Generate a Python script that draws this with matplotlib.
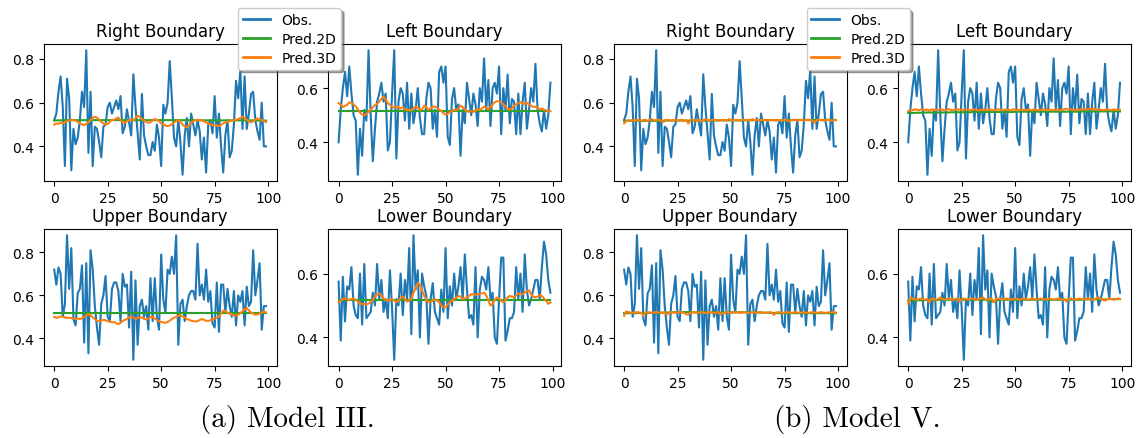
import matplotlib
matplotlib.use("Agg")
import matplotlib.pyplot as plt

x = list(range(100))

obs_right = [0.52,0.55,0.65,0.72,0.58,0.31,0.71,0.62,0.29,0.48,
             0.41,0.44,0.52,0.65,0.58,0.84,0.37,0.65,0.31,0.49,
             0.48,0.42,0.35,0.49,0.50,0.58,0.60,0.55,0.58,0.61,
             0.57,0.63,0.46,0.49,0.57,0.51,0.45,0.73,0.58,0.46,
             0.34,0.64,0.45,0.40,0.36,0.36,0.42,0.38,0.50,0.44,
             0.31,0.59,0.55,0.60,0.79,0.62,0.44,0.40,0.52,0.42,
             0.27,0.45,0.53,0.40,0.55,0.50,0.45,0.52,0.47,0.34,
             0.44,0.28,0.50,0.52,0.46,0.63,0.44,0.55,0.40,0.28,
             0.45,0.52,0.35,0.38,0.50,0.70,0.62,0.75,0.48,0.72,
             0.48,0.55,0.64,0.65,0.52,0.47,0.43,0.60,0.40,0.40]

obs_left = [0.40,0.52,0.60,0.66,0.57,0.68,0.58,0.50,0.48,0.28,
            0.45,0.35,0.52,0.48,0.74,0.50,0.33,0.45,0.55,0.58,
            0.62,0.55,0.58,0.37,0.40,0.58,0.74,0.34,0.55,0.60,
            0.58,0.48,0.62,0.45,0.58,0.47,0.52,0.60,0.49,0.43,
            0.43,0.56,0.62,0.60,0.45,0.52,0.42,0.66,0.68,0.62,
            0.68,0.42,0.39,0.56,0.60,0.52,0.54,0.35,0.52,0.47,
            0.62,0.56,0.50,0.58,0.54,0.46,0.60,0.55,0.71,0.52,
            0.63,0.46,0.60,0.62,0.58,0.68,0.43,0.60,0.52,0.65,
            0.47,0.56,0.55,0.43,0.58,0.43,0.55,0.62,0.45,0.52,
            0.60,0.55,0.69,0.52,0.47,0.44,0.52,0.45,0.50,0.62]

obs_upper = [0.72,0.65,0.73,0.70,0.50,0.56,0.88,0.63,0.82,0.49,
             0.46,0.61,0.63,0.74,0.38,0.75,0.33,0.81,0.72,0.55,
             0.45,0.37,0.56,0.60,0.69,0.50,0.48,0.63,0.66,0.66,
             0.62,0.48,0.70,0.64,0.65,0.45,0.71,0.30,0.67,0.37,
             0.55,0.58,0.50,0.55,0.44,0.68,0.48,0.68,0.50,0.44,
             0.79,0.58,0.52,0.72,0.70,0.78,0.70,0.88,0.37,0.56,
             0.58,0.48,0.55,0.60,0.62,0.62,0.58,0.84,0.60,0.65,
             0.58,0.72,0.57,0.62,0.47,0.45,0.66,0.43,0.65,0.65,
             0.52,0.63,0.55,0.50,0.62,0.46,0.60,0.57,0.62,0.46,
             0.64,0.55,0.57,0.81,0.60,0.67,0.75,0.44,0.55,0.55]

obs_lower = [0.575,0.39,0.59,0.45,0.56,0.55,0.62,0.50,0.47,0.46,
             0.60,0.44,0.63,0.46,0.47,0.48,0.54,0.50,0.63,0.52,
             0.58,0.48,0.52,0.46,0.61,0.49,0.33,0.52,0.50,0.60,
             0.47,0.58,0.52,0.68,0.41,0.72,0.55,0.61,0.40,0.60,
             0.56,0.53,0.38,0.52,0.57,0.48,0.46,0.44,0.55,0.48,
             0.68,0.46,0.56,0.50,0.60,0.52,0.56,0.62,0.52,0.66,
             0.55,0.46,0.47,0.44,0.62,0.40,0.55,0.59,0.58,0.55,
             0.62,0.52,0.54,0.40,0.38,0.52,0.65,0.65,0.39,0.42,
             0.46,0.46,0.48,0.62,0.52,0.60,0.48,0.66,0.55,0.50,
             0.52,0.55,0.58,0.58,0.52,0.62,0.70,0.66,0.58,0.54]

# ---- Model III predictions ----
p3_right_m3 = [0.500,0.505,0.503,0.508,0.505,0.510,0.515,0.520,0.522,0.520,
               0.518,0.512,0.505,0.500,0.498,0.502,0.510,0.520,0.530,0.535,
               0.532,0.522,0.512,0.505,0.500,0.502,0.512,0.522,0.520,0.528,
               0.532,0.520,0.510,0.508,0.515,0.520,0.522,0.518,0.530,0.540,
               0.535,0.525,0.518,0.512,0.508,0.510,0.518,0.525,0.522,0.515,
               0.505,0.500,0.495,0.493,0.495,0.502,0.510,0.515,0.520,0.512,
               0.500,0.492,0.488,0.495,0.508,0.515,0.520,0.522,0.518,0.520,
               0.515,0.510,0.505,0.500,0.498,0.500,0.495,0.492,0.498,0.505,
               0.510,0.512,0.515,0.518,0.520,0.522,0.525,0.530,0.535,0.530,
               0.522,0.515,0.510,0.515,0.522,0.528,0.525,0.520,0.515,0.512]

p3_left_m3 = [0.545,0.538,0.530,0.535,0.538,0.548,0.545,0.540,0.532,0.522,
              0.510,0.502,0.500,0.505,0.512,0.520,0.530,0.538,0.542,0.550,
              0.560,0.568,0.558,0.545,0.538,0.530,0.528,0.532,0.528,0.525,
              0.530,0.522,0.518,0.520,0.518,0.525,0.532,0.528,0.520,0.522,
              0.535,0.530,0.520,0.525,0.530,0.532,0.528,0.520,0.515,0.508,
              0.502,0.505,0.512,0.515,0.520,0.518,0.525,0.535,0.530,0.520,
              0.515,0.512,0.515,0.512,0.518,0.522,0.520,0.525,0.532,0.528,
              0.522,0.530,0.540,0.548,0.552,0.550,0.548,0.540,0.532,0.525,
              0.520,0.525,0.535,0.540,0.545,0.548,0.545,0.542,0.545,0.540,
              0.535,0.530,0.532,0.528,0.522,0.525,0.520,0.518,0.515,0.515]

p3_upper_m3 = [0.500,0.495,0.498,0.502,0.500,0.498,0.495,0.496,0.494,0.492,
               0.490,0.492,0.490,0.493,0.500,0.505,0.512,0.508,0.498,0.490,
               0.482,0.478,0.482,0.486,0.484,0.480,0.478,0.474,0.476,0.470,
               0.466,0.472,0.480,0.486,0.490,0.498,0.502,0.496,0.490,0.494,
               0.500,0.496,0.490,0.488,0.492,0.498,0.500,0.492,0.486,0.480,
               0.476,0.474,0.472,0.476,0.482,0.490,0.496,0.500,0.505,0.506,
               0.502,0.496,0.490,0.486,0.482,0.480,0.478,0.480,0.485,0.490,
               0.486,0.482,0.480,0.484,0.488,0.492,0.496,0.500,0.515,0.530,
               0.525,0.520,0.515,0.510,0.508,0.505,0.510,0.518,0.525,0.535,
               0.542,0.530,0.520,0.515,0.510,0.512,0.515,0.520,0.525,0.520]

p3_lower_m3 = [0.510,0.515,0.520,0.522,0.520,0.518,0.520,0.522,0.518,0.512,
               0.506,0.504,0.505,0.503,0.506,0.510,0.518,0.528,0.535,0.538,
               0.530,0.522,0.518,0.515,0.518,0.520,0.515,0.510,0.515,0.522,
               0.528,0.520,0.512,0.515,0.522,0.540,0.555,0.570,0.565,0.548,
               0.530,0.518,0.510,0.512,0.515,0.520,0.515,0.510,0.500,0.495,
               0.495,0.502,0.510,0.515,0.520,0.525,0.530,0.528,0.520,0.522,
               0.525,0.530,0.535,0.535,0.533,0.535,0.536,0.538,0.540,0.532,
               0.515,0.500,0.505,0.518,0.525,0.522,0.515,0.510,0.518,0.525,
               0.530,0.528,0.525,0.532,0.538,0.536,0.535,0.540,0.545,0.548,
               0.535,0.528,0.525,0.528,0.532,0.530,0.522,0.515,0.505,0.510]

p2_right_m3 = [0.518,0.519,0.519,0.519,0.520,0.520,0.520,0.520,0.520,0.520,
               0.520,0.520,0.520,0.520,0.520,0.520,0.520,0.520,0.520,0.520,
               0.520,0.520,0.520,0.520,0.520,0.520,0.520,0.520,0.520,0.520,
               0.520,0.520,0.520,0.520,0.520,0.520,0.520,0.520,0.520,0.520,
               0.520,0.520,0.520,0.520,0.520,0.520,0.520,0.520,0.520,0.520,
               0.520,0.520,0.520,0.520,0.520,0.520,0.520,0.520,0.520,0.520,
               0.520,0.520,0.520,0.520,0.520,0.520,0.520,0.520,0.520,0.520,
               0.519,0.519,0.519,0.519,0.519,0.519,0.519,0.519,0.519,0.519,
               0.519,0.519,0.519,0.519,0.519,0.519,0.519,0.519,0.519,0.519,
               0.519,0.519,0.519,0.519,0.519,0.519,0.518,0.518,0.518,0.518]

p2_left_m3 = [0.516,0.516,0.516,0.516,0.516,0.516,0.516,0.516,0.516,0.516,
              0.516,0.516,0.516,0.516,0.516,0.516,0.516,0.516,0.516,0.516,
              0.516,0.516,0.516,0.516,0.516,0.516,0.516,0.516,0.516,0.516,
              0.516,0.516,0.516,0.516,0.516,0.516,0.516,0.516,0.516,0.516,
              0.516,0.516,0.516,0.516,0.516,0.516,0.516,0.516,0.516,0.516,
              0.516,0.516,0.516,0.516,0.516,0.516,0.516,0.516,0.516,0.516,
              0.516,0.516,0.516,0.516,0.516,0.516,0.516,0.516,0.516,0.516,
              0.516,0.516,0.516,0.516,0.516,0.516,0.516,0.516,0.516,0.516,
              0.516,0.516,0.516,0.516,0.516,0.516,0.516,0.516,0.516,0.516,
              0.516,0.516,0.516,0.516,0.516,0.516,0.516,0.516,0.516,0.516]

p2_upper_m3 = [0.520,0.520,0.520,0.520,0.520,0.520,0.520,0.520,0.520,0.520,
               0.520,0.520,0.520,0.520,0.520,0.520,0.520,0.520,0.520,0.520,
               0.520,0.520,0.520,0.520,0.520,0.520,0.520,0.520,0.520,0.520,
               0.520,0.520,0.520,0.520,0.520,0.520,0.520,0.520,0.520,0.520,
               0.520,0.520,0.520,0.520,0.520,0.520,0.520,0.520,0.520,0.520,
               0.520,0.520,0.520,0.520,0.520,0.520,0.520,0.520,0.520,0.520,
               0.520,0.520,0.520,0.520,0.520,0.520,0.520,0.520,0.520,0.520,
               0.520,0.520,0.520,0.520,0.520,0.520,0.520,0.520,0.520,0.520,
               0.520,0.520,0.520,0.520,0.520,0.520,0.520,0.520,0.520,0.520,
               0.520,0.520,0.520,0.520,0.520,0.520,0.520,0.520,0.520,0.520]

p2_lower_m3 = [0.518,0.518,0.518,0.518,0.518,0.518,0.518,0.518,0.518,0.518,
               0.518,0.518,0.518,0.518,0.518,0.518,0.518,0.518,0.518,0.518,
               0.518,0.518,0.518,0.518,0.518,0.518,0.518,0.518,0.518,0.518,
               0.518,0.518,0.518,0.518,0.518,0.518,0.518,0.518,0.518,0.518,
               0.518,0.518,0.518,0.518,0.518,0.518,0.518,0.518,0.518,0.518,
               0.518,0.518,0.518,0.518,0.518,0.518,0.518,0.518,0.518,0.518,
               0.518,0.518,0.518,0.518,0.518,0.518,0.518,0.518,0.518,0.518,
               0.518,0.518,0.518,0.518,0.518,0.518,0.518,0.518,0.518,0.518,
               0.518,0.518,0.518,0.518,0.518,0.518,0.518,0.518,0.518,0.518,
               0.518,0.518,0.518,0.518,0.518,0.518,0.518,0.518,0.518,0.518]

# ---- Model V predictions ----
p3_right_m5 = [0.505,0.515,0.520,0.518,0.520,0.516,0.522,0.520,0.518,0.520,
               0.522,0.515,0.520,0.525,0.518,0.520,0.522,0.519,0.510,0.520,
               0.522,0.520,0.518,0.521,0.520,0.518,0.520,0.522,0.516,0.520,
               0.505,0.520,0.522,0.520,0.518,0.520,0.515,0.520,0.525,0.520,
               0.518,0.520,0.522,0.520,0.518,0.520,0.521,0.520,0.518,0.525,
               0.520,0.518,0.522,0.520,0.519,0.520,0.522,0.520,0.518,0.520,
               0.525,0.520,0.522,0.518,0.520,0.522,0.520,0.518,0.520,0.522,
               0.520,0.518,0.521,0.520,0.518,0.522,0.520,0.515,0.520,0.522,
               0.520,0.518,0.522,0.520,0.518,0.520,0.522,0.520,0.519,0.508,
               0.520,0.522,0.520,0.518,0.520,0.522,0.520,0.518,0.520,0.520]

p3_left_m5 = [0.515,0.520,0.518,0.522,0.520,0.518,0.522,0.520,0.519,0.521,
              0.515,0.522,0.520,0.518,0.520,0.522,0.520,0.518,0.520,0.522,
              0.520,0.518,0.521,0.520,0.522,0.518,0.520,0.522,0.520,0.518,
              0.520,0.522,0.520,0.518,0.520,0.521,0.520,0.518,0.522,0.520,
              0.518,0.520,0.522,0.520,0.518,0.520,0.521,0.520,0.518,0.522,
              0.520,0.518,0.520,0.522,0.520,0.518,0.521,0.520,0.518,0.522,
              0.520,0.518,0.520,0.522,0.520,0.518,0.521,0.520,0.518,0.522,
              0.520,0.518,0.520,0.522,0.525,0.520,0.522,0.520,0.518,0.522,
              0.520,0.522,0.525,0.520,0.522,0.524,0.522,0.525,0.520,0.522,
              0.520,0.518,0.520,0.522,0.520,0.518,0.521,0.520,0.520,0.520]

p3_upper_m5 = [0.505,0.525,0.522,0.520,0.518,0.520,0.522,0.520,0.518,0.505,
               0.520,0.522,0.520,0.518,0.520,0.522,0.520,0.518,0.520,0.522,
               0.508,0.520,0.522,0.520,0.518,0.520,0.522,0.520,0.518,0.512,
               0.510,0.520,0.522,0.520,0.518,0.520,0.522,0.520,0.518,0.520,
               0.522,0.520,0.518,0.520,0.522,0.510,0.518,0.520,0.522,0.520,
               0.518,0.520,0.522,0.520,0.518,0.520,0.522,0.520,0.518,0.520,
               0.522,0.520,0.518,0.520,0.522,0.520,0.518,0.520,0.522,0.520,
               0.508,0.520,0.522,0.520,0.518,0.520,0.522,0.520,0.518,0.520,
               0.522,0.520,0.518,0.520,0.522,0.520,0.518,0.520,0.522,0.520,
               0.518,0.520,0.522,0.520,0.518,0.520,0.522,0.520,0.522,0.520]

p3_lower_m5 = [0.505,0.525,0.522,0.520,0.518,0.520,0.522,0.520,0.518,0.520,
               0.510,0.522,0.520,0.518,0.520,0.525,0.520,0.518,0.520,0.522,
               0.520,0.518,0.520,0.522,0.512,0.520,0.522,0.520,0.518,0.520,
               0.522,0.520,0.518,0.520,0.522,0.525,0.520,0.518,0.520,0.522,
               0.510,0.520,0.522,0.520,0.518,0.520,0.522,0.520,0.518,0.520,
               0.522,0.520,0.518,0.520,0.522,0.520,0.518,0.520,0.522,0.520,
               0.518,0.520,0.522,0.520,0.518,0.520,0.522,0.520,0.518,0.520,
               0.522,0.520,0.518,0.520,0.512,0.520,0.522,0.520,0.518,0.520,
               0.522,0.520,0.518,0.520,0.522,0.520,0.518,0.520,0.522,0.525,
               0.520,0.518,0.515,0.520,0.522,0.520,0.518,0.520,0.522,0.520]

p2_right_m5 = [0.517,0.517,0.517,0.517,0.517,0.517,0.517,0.517,0.517,0.517,
               0.517,0.517,0.517,0.517,0.517,0.517,0.517,0.517,0.517,0.517,
               0.518,0.518,0.518,0.518,0.518,0.518,0.518,0.518,0.518,0.518,
               0.518,0.518,0.518,0.518,0.518,0.518,0.518,0.518,0.518,0.518,
               0.519,0.519,0.519,0.519,0.519,0.519,0.519,0.519,0.519,0.519,
               0.519,0.519,0.519,0.519,0.519,0.519,0.519,0.519,0.519,0.519,
               0.520,0.520,0.520,0.520,0.520,0.520,0.520,0.520,0.520,0.520,
               0.520,0.520,0.520,0.520,0.520,0.520,0.520,0.520,0.520,0.520,
               0.521,0.521,0.521,0.521,0.521,0.521,0.521,0.521,0.521,0.521,
               0.521,0.521,0.521,0.521,0.521,0.521,0.521,0.521,0.521,0.521]

p2_left_m5 = [0.508,0.508,0.508,0.509,0.509,0.509,0.509,0.510,0.510,0.510,
              0.510,0.510,0.510,0.510,0.510,0.510,0.510,0.510,0.510,0.510,
              0.511,0.511,0.511,0.511,0.511,0.511,0.511,0.511,0.511,0.511,
              0.512,0.512,0.512,0.512,0.512,0.512,0.512,0.512,0.512,0.512,
              0.512,0.512,0.512,0.512,0.512,0.512,0.512,0.512,0.512,0.512,
              0.513,0.513,0.513,0.513,0.513,0.513,0.513,0.513,0.513,0.513,
              0.513,0.513,0.513,0.513,0.513,0.513,0.513,0.513,0.513,0.513,
              0.513,0.513,0.513,0.513,0.513,0.513,0.513,0.513,0.513,0.513,
              0.514,0.514,0.514,0.514,0.514,0.514,0.514,0.514,0.514,0.514,
              0.514,0.514,0.514,0.514,0.514,0.514,0.514,0.514,0.514,0.514]

p2_upper_m5 = [0.517,0.517,0.517,0.517,0.517,0.517,0.518,0.518,0.518,0.518,
               0.518,0.518,0.518,0.518,0.518,0.519,0.519,0.519,0.519,0.520,
               0.520,0.520,0.521,0.521,0.521,0.522,0.522,0.522,0.522,0.522,
               0.522,0.522,0.521,0.521,0.521,0.520,0.520,0.520,0.520,0.520,
               0.520,0.520,0.520,0.520,0.520,0.520,0.520,0.520,0.520,0.520,
               0.521,0.521,0.521,0.521,0.521,0.521,0.521,0.521,0.521,0.521,
               0.521,0.521,0.520,0.520,0.520,0.519,0.519,0.519,0.518,0.518,
               0.518,0.518,0.517,0.517,0.517,0.517,0.517,0.517,0.517,0.517,
               0.517,0.517,0.517,0.517,0.517,0.517,0.517,0.517,0.517,0.517,
               0.517,0.517,0.517,0.517,0.517,0.517,0.517,0.517,0.517,0.517]

p2_lower_m5 = [0.515,0.515,0.515,0.516,0.516,0.516,0.516,0.516,0.517,0.517,
               0.517,0.517,0.517,0.517,0.517,0.518,0.518,0.518,0.518,0.518,
               0.518,0.518,0.518,0.518,0.518,0.518,0.518,0.518,0.518,0.518,
               0.518,0.518,0.518,0.518,0.518,0.518,0.518,0.516,0.514,0.512,
               0.513,0.515,0.517,0.518,0.518,0.518,0.518,0.518,0.518,0.518,
               0.518,0.518,0.518,0.518,0.518,0.518,0.518,0.518,0.518,0.518,
               0.518,0.518,0.518,0.518,0.518,0.518,0.518,0.518,0.518,0.518,
               0.518,0.518,0.518,0.518,0.518,0.518,0.518,0.518,0.518,0.518,
               0.518,0.518,0.519,0.519,0.519,0.519,0.519,0.519,0.519,0.519,
               0.519,0.519,0.519,0.519,0.520,0.520,0.520,0.520,0.520,0.520]

titles = ["Right Boundary", "Left Boundary", "Upper Boundary", "Lower Boundary"]
legend_labels = ["Obs.", "Pred.2D", "Pred.3D"]
captions = ["(a) Model III.", "(b) Model V."]

obs_all = [obs_right, obs_left, obs_upper, obs_lower]
pred2d = [[p2_right_m3, p2_left_m3, p2_upper_m3, p2_lower_m3],
          [p2_right_m5, p2_left_m5, p2_upper_m5, p2_lower_m5]]
pred3d = [[p3_right_m3, p3_left_m3, p3_upper_m3, p3_lower_m3],
          [p3_right_m5, p3_left_m5, p3_upper_m5, p3_lower_m5]]
yticks = [[0.4, 0.6, 0.8], [0.4, 0.6], [0.4, 0.6, 0.8], [0.4, 0.6]]

W, H = 1139, 439
fig = plt.figure(figsize=(W / 100, H / 100), dpi=100)

col_left_px = [[43.6, 328.0], [613.5, 897.6]]
row_top_px = [45.0, 230.0]
ax_w_px, ax_h_px = 233.0, 137.0

C_OBS, C_2D, C_3D = "#1f77b4", "#2ca02c", "#ff7f0e"

for m in range(2):
    handles = None
    for k in range(4):
        r, c = divmod(k, 2)
        lpx = col_left_px[m][c]
        tpx = row_top_px[r]
        ax = fig.add_axes([lpx / W, 1 - (tpx + ax_h_px) / H, ax_w_px / W, ax_h_px / H])
        h1, = ax.plot(x, obs_all[k], color=C_OBS, lw=1.5)
        h2, = ax.plot(x, pred2d[m][k], color=C_2D, lw=1.5)
        h3, = ax.plot(x, pred3d[m][k], color=C_3D, lw=1.5)
        ax.set_title(titles[k], fontsize=12)
        ax.set_xticks([0, 25, 50, 75, 100])
        ax.set_yticks(yticks[k])
        ax.tick_params(labelsize=10)
        if handles is None:
            handles = [h1, h2, h3]
    leg_left = [237.7, 806.6][m]
    leg = fig.legend(handles, legend_labels, loc="upper left",
                     bbox_to_anchor=(leg_left / W, 1 - 9.3 / H), borderaxespad=0.0,
                     fontsize=10, labelspacing=0.35, borderpad=0.35,
                     shadow=True, framealpha=1.0)
    for ln in leg.get_lines():
        ln.set_linewidth(2.0)
    fig.text([287.5 / W, 857 / W][m], 1 - 420 / H, captions[m], ha="center", va="center",
             fontsize=21, family="cmr10")

fig.savefig("out.png", dpi=100)
